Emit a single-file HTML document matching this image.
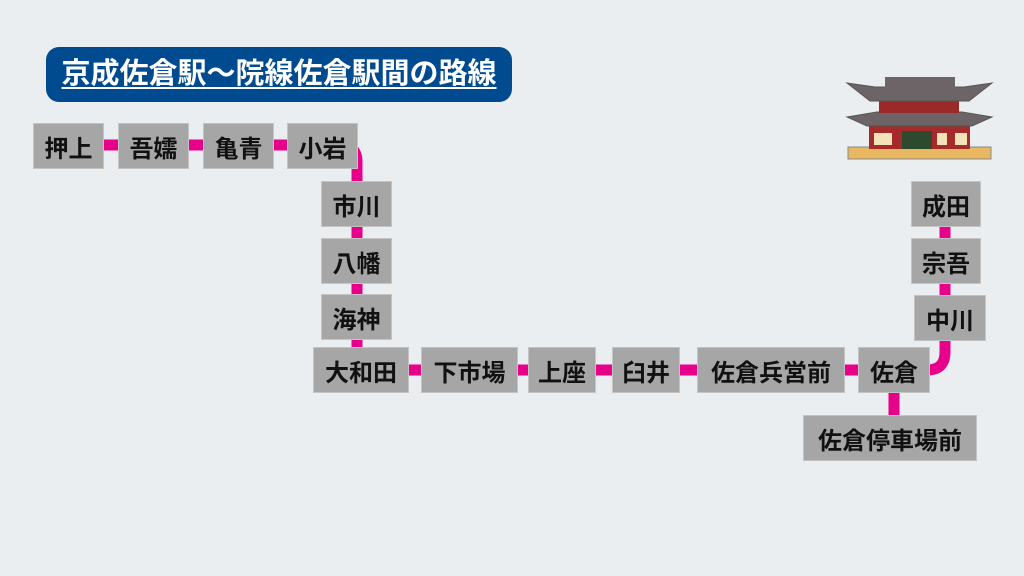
<!DOCTYPE html>
<html><head><meta charset="utf-8"><style>
body{margin:0;width:1024px;height:576px;background:#ebeef0;position:relative;overflow:hidden;font-family:"Liberation Sans","Noto Sans CJK JP",sans-serif}
.t{position:absolute;left:46px;top:47px;width:466px;height:55px;background:#004b8f;border-radius:13px;color:#fff;font-size:29px;font-weight:bold;text-align:center;line-height:55px;text-decoration:underline;text-underline-offset:4px;text-decoration-thickness:2px;white-space:nowrap}
.b{position:absolute;background:#a6a6a6;border:1px solid #c4c4c4;box-sizing:border-box;font-size:24px;font-weight:bold;color:#111;text-align:center;display:flex;align-items:center;justify-content:center;white-space:nowrap}
svg{position:absolute;left:0;top:0}
</style></head><body>
<svg width="1024" height="576">
<g stroke="#e6008a" stroke-width="11" fill="none">
<line x1="100" y1="145" x2="340" y2="145"/>
<path d="M340 145 Q357 145 357 162 L357 350"/>
<line x1="400" y1="370" x2="870" y2="370"/>
<path d="M945 200 L945 352 Q945 370 927 370 L900 370"/>
<line x1="894" y1="370" x2="894" y2="420"/>
</g>
<g transform="translate(847,75)">
<rect x="1" y="72" width="143" height="12" fill="#e8b860" stroke="#888" />
<rect x="22" y="50" width="101" height="24" fill="#a52a2a"/>
<rect x="55" y="56" width="30" height="18" fill="#2e4a2e"/>
<g fill="#f3e3b8"><rect x="27" y="58" width="18" height="12"/><rect x="90" y="58" width="10" height="12"/><rect x="108" y="58" width="12" height="12"/></g>
<polygon points="0,42 30,37 115,37 145,42 125,51 20,51" fill="#6d6468" stroke="#555"/>
<rect x="32" y="25" width="80" height="13" fill="#9a2a2a"/>
<polygon points="0,8 28,12 117,12 145,8 122,26 23,26" fill="#6d6468" stroke="#555"/>
<rect x="38" y="2" width="70" height="11" fill="#6d6468"/>
</g>
</svg>
<div class="t">京成佐倉駅〜院線佐倉駅間の路線</div>
<div class="b" style="left:33px;top:123px;width:71px;height:46px">押上</div>
<div class="b" style="left:118px;top:123px;width:71px;height:46px">吾嬬</div>
<div class="b" style="left:203px;top:123px;width:71px;height:46px">亀青</div>
<div class="b" style="left:287px;top:123px;width:71px;height:46px">小岩</div>
<div class="b" style="left:321px;top:181px;width:71px;height:46px">市川</div>
<div class="b" style="left:321px;top:238px;width:71px;height:46px">八幡</div>
<div class="b" style="left:321px;top:294px;width:71px;height:46px">海神</div>
<div class="b" style="left:313px;top:347px;width:96px;height:46px">大和田</div>
<div class="b" style="left:421px;top:347px;width:97px;height:46px">下市場</div>
<div class="b" style="left:528px;top:347px;width:68px;height:46px">上座</div>
<div class="b" style="left:612px;top:347px;width:68px;height:46px">臼井</div>
<div class="b" style="left:697px;top:347px;width:148px;height:46px">佐倉兵営前</div>
<div class="b" style="left:858px;top:347px;width:72px;height:46px">佐倉</div>
<div class="b" style="left:803px;top:415px;width:174px;height:46px">佐倉停車場前</div>
<div class="b" style="left:911px;top:181px;width:70px;height:46px">成田</div>
<div class="b" style="left:911px;top:238px;width:70px;height:46px">宗吾</div>
<div class="b" style="left:914px;top:295px;width:72px;height:46px">中川</div>
</body></html>
